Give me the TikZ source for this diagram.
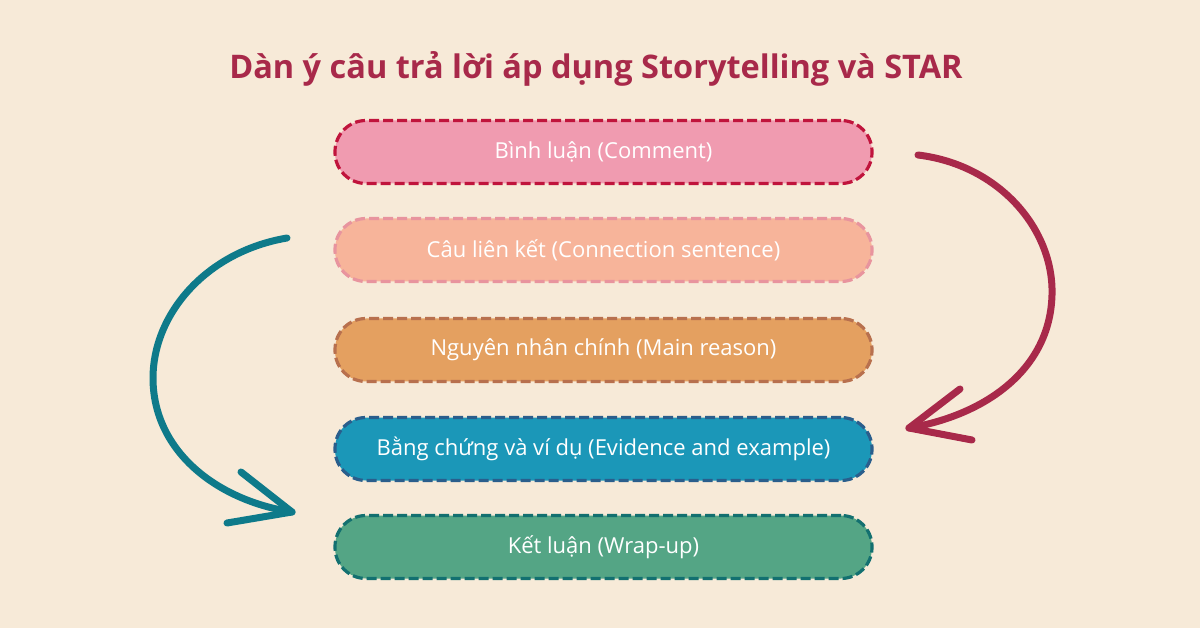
\documentclass[tikz,border=0pt]{standalone}
\usepackage{fontspec}
\setmainfont{Open Sans}
\begin{document}
\begin{tikzpicture}[x=1pt,y=-1pt,
  box/.style={rectangle, rounded corners=31pt, minimum width=537pt, minimum height=63pt,
    line width=3.2pt, dash pattern=on 10pt off 4pt, text=white, font=\fontsize{22}{26}\selectfont, inner sep=0pt},
  arr/.style={line width=7pt, line cap=round, line join=round}]
\definecolor{bg}{HTML}{F7EAD8}
\definecolor{titlec}{HTML}{A8294A}
\definecolor{f1}{HTML}{F09BB0}\definecolor{d1}{HTML}{C0143C}
\definecolor{f2}{HTML}{F7B49A}\definecolor{d2}{HTML}{E8949E}
\definecolor{f3}{HTML}{E4A060}\definecolor{d3}{HTML}{B8704E}
\definecolor{f4}{HTML}{1B97B8}\definecolor{d4}{HTML}{2A5E8C}
\definecolor{f5}{HTML}{54A585}\definecolor{d5}{HTML}{137070}
\definecolor{redarr}{HTML}{A8294A}
\definecolor{tealarr}{HTML}{0E7A8A}
\fill[bg] (0,0) rectangle (1200,628);
\useasboundingbox (0,0) rectangle (1200,628);
\node[font=\fontsize{32.5}{36}\selectfont\bfseries, text=titlec] (title) at (596,69) {Dàn ý câu trả lời áp dụng Storytelling và STAR};
\node[box, fill=f1, draw=d1] (b1) at (603.5,152) {Bình luận (Comment)};
\node[box, fill=f2, draw=d2] (b2) at (603.5,250) {Câu liên kết (Connection sentence)};
\node[box, fill=f3, draw=d3] (b3) at (603.5,350) {Nguyên nhân chính (Main reason)};
\node[box, fill=f4, draw=d4] (b4) at (603.5,449) {Bằng chứng và ví dụ (Evidence and example)};
\node[box, fill=f5, draw=d5] (b5) at (603.5,547) {Kết luận (Wrap-up)};
% right arrow
\coordinate (rs) at (918,155);
\coordinate (rm) at (1052,295);
\coordinate (rt) at (909,428);
\coordinate (rb1) at (960,389);
\coordinate (rb2) at (972,440);
\draw[arr, redarr] (rs) .. controls (1000,165) and (1054,230) .. (rm) .. controls (1050,370) and (985,415) .. (rt);
\draw[arr, redarr] (rb1) -- (rt) -- (rb2);
% left arrow
\coordinate (ls) at (287,238);
\coordinate (lm) at (153,378);
\coordinate (lt) at (292,512);
\coordinate (lb1) at (241,472);
\coordinate (lb2) at (227,523);
\draw[arr, tealarr] (ls) .. controls (205,252) and (153,315) .. (lm) .. controls (153,450) and (215,500) .. (lt);
\draw[arr, tealarr] (lb1) -- (lt) -- (lb2);
\end{tikzpicture}
\end{document}
